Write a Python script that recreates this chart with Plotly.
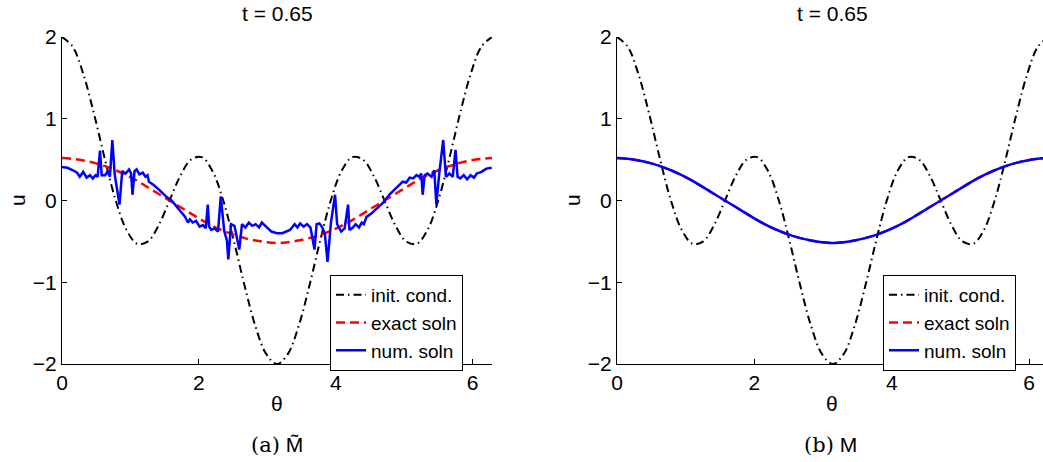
import plotly.graph_objects as go

W, H = 1043, 462

# ---------------- data ----------------
theta_grid = [0.000, 0.157, 0.314, 0.471, 0.628, 0.785, 0.942, 1.100, 1.257, 1.414,
              1.571, 1.728, 1.885, 2.042, 2.199, 2.356, 2.513, 2.670, 2.827, 2.985,
              3.142, 3.299, 3.456, 3.613, 3.770, 3.927, 4.084, 4.241, 4.398, 4.555,
              4.712, 4.869, 5.027, 5.184, 5.341, 5.498, 5.655, 5.812, 5.969, 6.126, 6.283]

init_cond = [2.00, 1.88, 1.54, 1.05, 0.50, 0.00, -0.36, -0.53, -0.50, -0.30,
             0.00, 0.30, 0.50, 0.53, 0.36, 0.00, -0.50, -1.05, -1.54, -1.88,
             -2.00, -1.88, -1.54, -1.05, -0.50, 0.00, 0.36, 0.53, 0.50, 0.30,
             0.00, -0.30, -0.50, -0.53, -0.36, 0.00, 0.50, 1.05, 1.54, 1.88, 2.00]

exact_soln = [0.52, 0.51, 0.49, 0.46, 0.42, 0.37, 0.31, 0.24, 0.16, 0.08,
              0.00, -0.08, -0.16, -0.24, -0.31, -0.37, -0.42, -0.46, -0.49, -0.51,
              -0.52, -0.51, -0.49, -0.46, -0.42, -0.37, -0.31, -0.24, -0.16, -0.08,
              0.00, 0.08, 0.16, 0.24, 0.31, 0.37, 0.42, 0.46, 0.49, 0.51, 0.52]

num_soln_b = [0.52, 0.51, 0.49, 0.46, 0.42, 0.37, 0.31, 0.24, 0.16, 0.08,
              0.00, -0.08, -0.16, -0.24, -0.31, -0.37, -0.42, -0.46, -0.49, -0.51,
              -0.52, -0.51, -0.49, -0.46, -0.42, -0.37, -0.31, -0.24, -0.16, -0.08,
              0.00, 0.08, 0.16, 0.24, 0.31, 0.37, 0.42, 0.46, 0.49, 0.51, 0.52]

theta_num_a = [0.00, 0.08, 0.16, 0.22, 0.26, 0.31, 0.36, 0.41, 0.45, 0.49,
               0.52, 0.555, 0.58, 0.63, 0.67, 0.70, 0.735, 0.77, 0.84, 0.88,
               0.93, 0.98, 1.01, 1.03, 1.06, 1.09, 1.13, 1.18, 1.22, 1.25,
               1.27, 1.31, 1.34, 1.42, 1.52, 1.60, 1.67, 1.74, 1.80, 1.84,
               1.87, 1.91, 1.96, 2.01, 2.06, 2.10, 2.13, 2.15, 2.18, 2.23,
               2.28, 2.32, 2.37, 2.41, 2.43, 2.47, 2.52, 2.55, 2.59, 2.63,
               2.68, 2.73, 2.78, 2.83, 2.88, 2.92, 2.99, 3.06, 3.14, 3.22,
               3.33, 3.40, 3.44, 3.48, 3.53, 3.58, 3.63, 3.69, 3.72, 3.76,
               3.79, 3.84, 3.88, 3.93, 3.99, 4.02, 4.08, 4.13, 4.18, 4.20,
               4.25, 4.29, 4.34, 4.38, 4.41, 4.45, 4.52, 4.60, 4.70, 4.78,
               4.86, 4.93, 4.98, 5.03, 5.08, 5.13, 5.18, 5.22, 5.25, 5.27,
               5.30, 5.34, 5.40, 5.44, 5.47, 5.51, 5.57, 5.61, 5.66, 5.71,
               5.75, 5.78, 5.82, 5.87, 5.92, 5.97, 6.02, 6.06, 6.13, 6.20, 6.28]

num_soln_a = [0.41, 0.40, 0.37, 0.34, 0.29, 0.35, 0.28, 0.31, 0.27, 0.31,
              0.29, 0.61, 0.31, 0.31, 0.36, 0.29, 0.74, 0.32, -0.05, 0.36,
              0.33, 0.38, 0.33, 0.07, 0.36, 0.38, 0.32, 0.34, 0.29, 0.31,
              0.23, 0.21, 0.19, 0.13, 0.05, 0.00, -0.07, -0.14, -0.20, -0.27,
              -0.23, -0.27, -0.25, -0.32, -0.30, -0.34, -0.05, -0.32, -0.36, -0.34,
              -0.38, 0.05, -0.37, -0.49, -0.72, -0.29, -0.31, -0.43, -0.60, -0.29,
              -0.33, -0.27, -0.31, -0.29, -0.33, -0.27, -0.33, -0.38, -0.40, -0.40,
              -0.36, -0.29, -0.33, -0.28, -0.32, -0.29, -0.33, -0.60, -0.29, -0.28,
              -0.31, -0.40, -0.75, -0.27, 0.07, -0.29, -0.38, -0.34, -0.05, -0.36,
              -0.33, -0.29, -0.33, -0.27, -0.29, -0.20, -0.16, -0.10, -0.02, 0.07,
              0.13, 0.19, 0.23, 0.22, 0.28, 0.27, 0.31, 0.29, 0.33, 0.07,
              0.31, 0.33, 0.29, 0.37, -0.05, 0.31, 0.74, 0.29, 0.33, 0.29,
              0.62, 0.29, 0.27, 0.31, 0.26, 0.31, 0.28, 0.33, 0.35, 0.39, 0.40]

x_ticks = [0, 2, 4, 6]
y_ticks = [-2, -1, 0, 1, 2]
panel_title = "t = 0.65"
legend_names = ["init. cond.", "exact soln", "num. soln"]

# ---------------- style ----------------
FONT = "Liberation Sans, Arial, Helvetica, sans-serif"
FS = 21
LFS = 19
BLACK_DASH = "8px,4px,1.5px,4px"
RED_DASH = "9px,5px"

fig = go.Figure()

def add_panel(xa, ya, leg, num_x, num_y, smooth):
    fig.add_trace(go.Scatter(x=theta_grid, y=init_cond, mode="lines", name=legend_names[0],
                             line=dict(color="black", width=2, dash=BLACK_DASH, shape="spline"),
                             xaxis=xa, yaxis=ya, legend=leg))
    fig.add_trace(go.Scatter(x=theta_grid, y=exact_soln, mode="lines", name=legend_names[1],
                             line=dict(color="#ff0000", width=2.5, dash=RED_DASH, shape="spline"),
                             xaxis=xa, yaxis=ya, legend=leg))
    fig.add_trace(go.Scatter(x=num_x, y=num_y, mode="lines", name=legend_names[2],
                             line=dict(color="#0000ff", width=2.5,
                                       shape="spline" if smooth else "linear"),
                             xaxis=xa, yaxis=ya, legend=leg))

add_panel("x", "y", "legend", theta_num_a, num_soln_a, False)
add_panel("x2", "y2", "legend2", theta_grid, num_soln_b, True)

def px2x(p):
    return p / W

def px2y(p):
    return 1 - p / H

left_dom = [px2x(62), px2x(492)]
right_dom = [px2x(617), 1.0]
y_dom = [px2y(364), px2y(37)]

axis_common = dict(showline=True, linecolor="black", linewidth=1, ticks="inside",
                   ticklen=5, tickcolor="black", showgrid=False, zeroline=False,
                   automargin=False,
                   tickfont=dict(family=FONT, size=FS, color="black"), mirror=False)

leg_common = dict(xanchor="left", yanchor="top", bordercolor="black", borderwidth=1,
                  bgcolor="white", font=dict(family=FONT, size=LFS, color="black"),
                  tracegroupgap=0, itemwidth=30)

fig.update_layout(
    width=W, height=H, autosize=False,
    margin=dict(l=0, r=0, t=0, b=0, pad=0, autoexpand=False),
    paper_bgcolor="white", plot_bgcolor="white",
    font=dict(family=FONT, color="black"),
    xaxis=dict(domain=left_dom, range=[0, 6.2832], tickvals=x_ticks, anchor="y", **axis_common),
    yaxis=dict(domain=y_dom, range=[-2, 2], tickvals=y_ticks, anchor="x", **axis_common),
    xaxis2=dict(domain=right_dom, range=[0, (1043 - 617) / 68.7], tickvals=x_ticks, anchor="y2", **axis_common),
    yaxis2=dict(domain=y_dom, range=[-2, 2], tickvals=y_ticks, anchor="x2", **axis_common),
    legend=dict(x=px2x(330), y=px2y(275), **leg_common),
    legend2=dict(x=px2x(883), y=px2y(275), **leg_common),
)

ann = []
for cx in (277, 832):
    ann.append(dict(x=px2x(cx), y=px2y(14), xref="paper", yref="paper", text=panel_title,
                    showarrow=False, font=dict(family=FONT, size=FS, color="black"),
                    xanchor="center", yanchor="middle"))
    ann.append(dict(x=px2x(cx), y=px2y(403), xref="paper", yref="paper", text="θ",
                    showarrow=False, font=dict(family=FONT, size=FS, color="black"),
                    xanchor="center", yanchor="middle"))
for cx in (17, 572):
    ann.append(dict(x=px2x(cx), y=px2y(200), xref="paper", yref="paper", text="u",
                    showarrow=False, textangle=-90, font=dict(family=FONT, size=FS, color="black"),
                    xanchor="center", yanchor="middle"))
ann.append(dict(x=px2x(277), y=px2y(445), xref="paper", yref="paper",
                text='<span style="font-family:DejaVu Serif, Liberation Serif, serif">(a)</span> M\u0303',
                showarrow=False, font=dict(family=FONT, size=FS, color="black"),
                xanchor="center", yanchor="middle"))
ann.append(dict(x=px2x(830), y=px2y(445), xref="paper", yref="paper",
                text='<span style="font-family:DejaVu Serif, Liberation Serif, serif">(b)</span> M',
                showarrow=False, font=dict(family=FONT, size=FS, color="black"),
                xanchor="center", yanchor="middle"))
fig.update_layout(annotations=ann)

fig.write_html("out.html")
